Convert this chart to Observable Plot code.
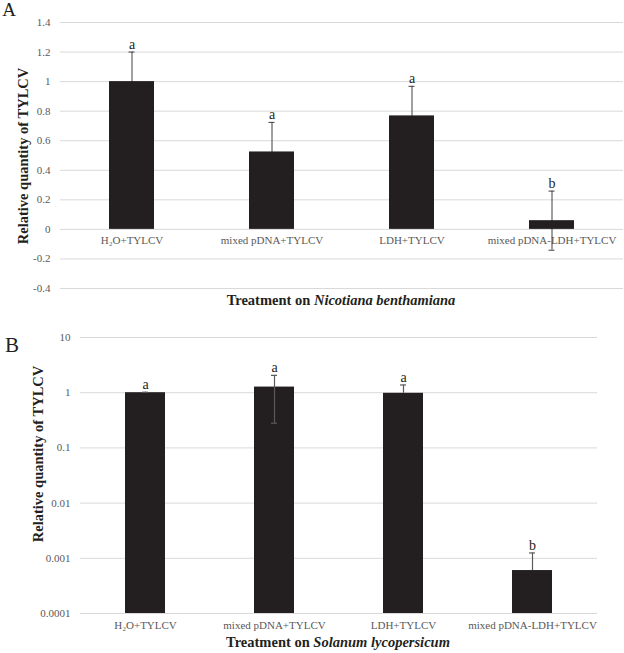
<!DOCTYPE html>
<html>
<head>
<meta charset="utf-8">
<script src="https://cdn.jsdelivr.net/npm/d3@7"></script>
<script src="https://cdn.jsdelivr.net/npm/@observablehq/plot@0.6"></script>
<style>
  html, body { margin: 0; padding: 0; background: white; }
  #wrap { position: relative; width: 624px; height: 653px; overflow: hidden; font-family: "Liberation Serif", "Times New Roman", serif; color: #231f20; }
  .panel { position: absolute; left: 0; }
  .lbl { position: absolute; white-space: nowrap; line-height: 1; transform: translate(-50%, -50%); }
  .ytitle { font-weight: bold; font-size: 14.5px; transform: translate(-50%, -50%) rotate(-90deg); }
  .xtitle { font-weight: bold; font-size: 14.5px; }
</style>
</head>
<body>
<div id="wrap">
  <div id="chartA" class="panel" style="top:0"></div>
  <div id="chartB" class="panel" style="top:310px"></div>
  <div class="lbl" style="left:9px; top:9px; font-size:19px;">A</div>
  <div class="lbl" style="left:12px; top:345px; font-size:21px;">B</div>
  <div class="lbl ytitle" style="left:23px; top:156px;">Relative quantity of TYLCV</div>
  <div class="lbl ytitle" style="left:38px; top:454px;">Relative quantity of TYLCV</div>
  <div class="lbl xtitle" style="left:341px; top:300px;">Treatment on <i>Nicotiana benthamiana</i></div>
  <div class="lbl xtitle" style="left:338px; top:642px;">Treatment on <i>Solanum lycopersicum</i></div>
</div>
<script>
// ---- data ----
const categories = ["H\u2082O+TYLCV", "mixed pDNA+TYLCV", "LDH+TYLCV", "mixed pDNA-LDH+TYLCV"];

const valuesA = [1.0, 0.524, 0.768, 0.059];
const errorsA = [0.2, 0.2, 0.2, 0.2];
const lettersA = ["a", "a", "a", "b"];
const yTicksA = [-0.4, -0.2, 0, 0.2, 0.4, 0.6, 0.8, 1, 1.2, 1.4];

const valuesB = [1.0, 1.265, 0.975, 0.0006];
const upperB = [1.02, 2.06, 1.38, 0.00125];
const lowerB = [null, 0.28, null, null];
const lettersB = ["a", "a", "a", "b"];
const yTicksB = [0.0001, 0.001, 0.01, 0.1, 1, 10];
const yTickLabelsB = ["0.0001", "0.001", "0.01", "0.1", "1", "10"];
const baseB = 0.0001;

// ---- tables ----
const dataA = categories.map((c, i) => ({
  cat: c, v: valuesA[i], lo: valuesA[i] - errorsA[i], hi: valuesA[i] + errorsA[i], letter: lettersA[i]
}));
const dataB = categories.map((c, i) => ({
  cat: c, v: valuesB[i], base: baseB, lo: lowerB[i], hi: upperB[i], letter: lettersB[i]
}));

const barColor = "#231f20";
const gridColor = "#d9d9d9";
const tickColor = "#595959";
const font = "Liberation Serif";

// ---- Panel A ----
const chartA = Plot.plot({
  width: 624, height: 310,
  marginLeft: 60, marginRight: 1, marginTop: 22, marginBottom: 22,
  style: { fontFamily: font, fontSize: "11px", color: tickColor, background: "white" },
  x: { domain: categories, paddingInner: 0.68, paddingOuter: 0.34, axis: null },
  y: { domain: [-0.4, 1.4] },
  marks: [
    Plot.gridY(yTicksA, { stroke: gridColor, strokeOpacity: 1, strokeWidth: 1 }),
    Plot.axisY(yTicksA, { tickSize: 0, tickPadding: 10, label: null, fill: tickColor, fontSize: 11,
      tickFormat: d => `${+d.toFixed(1)}` }),
    Plot.text(dataA, { x: "cat", y: () => 0, text: "cat", dy: 11, lineAnchor: "middle", fill: tickColor, fontSize: 11 }),
    Plot.ruleX(dataA, { x: "cat", y1: "lo", y2: "hi", stroke: "#404040", strokeWidth: 1 }),
    Plot.tickY(dataA, { x: "cat", y: "hi", stroke: "#404040", insetLeft: 19.5, insetRight: 19.5 }),
    Plot.tickY(dataA, { x: "cat", y: "lo", stroke: "#404040", insetLeft: 19.5, insetRight: 19.5 }),
    Plot.barY(dataA, { x: "cat", y: "v", fill: barColor }),
    Plot.text(dataA, { x: "cat", y: "hi", text: "letter", dy: -3, lineAnchor: "bottom", fill: barColor, fontSize: 14 })
  ]
});
document.getElementById("chartA").appendChild(chartA);

// ---- Panel B ----
const chartB = Plot.plot({
  width: 624, height: 343,
  marginLeft: 80, marginRight: 27, marginTop: 27, marginBottom: 40,
  style: { fontFamily: font, fontSize: "11px", color: tickColor, background: "white" },
  x: { domain: categories, paddingInner: 0.69, paddingOuter: 0.345, axis: null },
  y: { type: "log", domain: [0.0001, 10] },
  marks: [
    Plot.gridY(yTicksB, { stroke: gridColor, strokeOpacity: 1, strokeWidth: 1 }),
    Plot.axisY(yTicksB, { tickSize: 0, tickPadding: 10, label: null, fill: tickColor, fontSize: 11,
      tickFormat: d => yTickLabelsB[yTicksB.indexOf(d)] }),
    Plot.barY(dataB, { x: "cat", y1: "base", y2: "v", fill: barColor }),
    Plot.text(dataB, { x: "cat", y: "base", text: "cat", dy: 12, lineAnchor: "middle", fill: tickColor, fontSize: 11 }),
    Plot.ruleX(dataB, { x: "cat", y1: d => d.lo ?? d.v, y2: "hi", stroke: "#5a5a5a", strokeWidth: 1.2 }),
    Plot.tickY(dataB, { x: "cat", y: "hi", stroke: "#5a5a5a", strokeWidth: 1.2, insetLeft: 17, insetRight: 17 }),
    Plot.tickY(dataB.filter(d => d.lo != null), { x: "cat", y: "lo", stroke: "#5a5a5a", strokeWidth: 1.2, insetLeft: 17, insetRight: 17 }),
    Plot.text(dataB, { x: "cat", y: "hi", text: "letter", dy: -3, lineAnchor: "bottom", fill: barColor, fontSize: 14 })
  ]
});
document.getElementById("chartB").appendChild(chartB);
</script>
</body>
</html>
